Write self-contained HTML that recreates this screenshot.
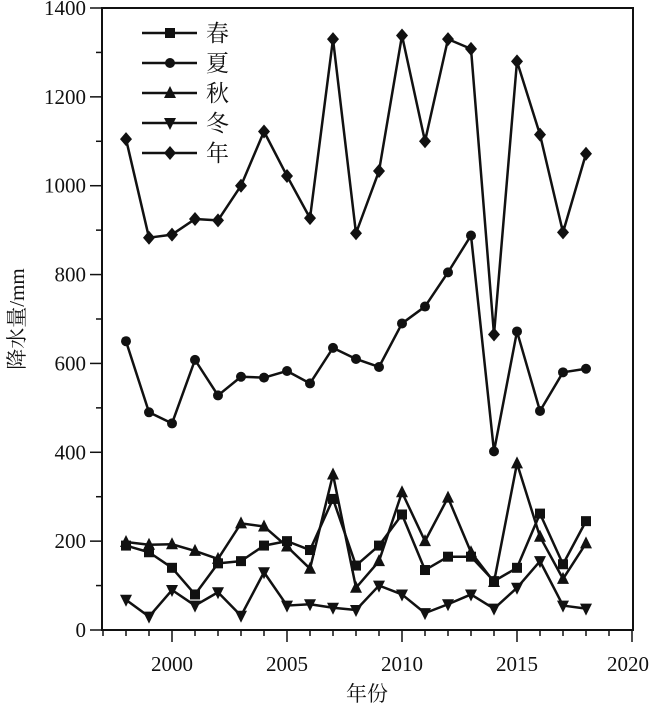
<!DOCTYPE html>
<html><head><meta charset="utf-8"><style>
html,body{margin:0;padding:0;background:#fff;}
svg text{font-family:"Liberation Serif","Noto Serif CJK SC",serif;fill:#111;}
</style></head><body>
<svg id="chart" width="650" height="713" viewBox="0 0 650 713" xmlns="http://www.w3.org/2000/svg">
<g id="axes"></g><g id="series"></g><g id="legend"></g>
</svg>
<script>
const years=[1998,1999,2000,2001,2002,2003,2004,2005,2006,2007,2008,2009,2010,2011,2012,2013,2014,2015,2016,2017,2018];
const spring=[190,175,140,80,150,155,190,200,180,295,145,190,260,135,165,165,110,140,262,148,245];
const summer=[650,490,465,608,528,570,568,583,555,635,610,592,690,728,805,888,402,672,493,580,588];
const autumn=[198,192,193,178,160,240,233,188,138,350,95,155,310,200,298,175,108,375,210,115,195];
const winter=[68,30,90,55,85,32,130,55,58,50,45,100,80,38,58,80,48,95,155,55,48];
const annual=[1105,883,890,925,922,1000,1122,1022,927,1330,893,1033,1338,1100,1330,1308,665,1280,1115,895,1072];
const yTicks=[0,200,400,600,800,1000,1200,1400];
const xTicks=[2000,2005,2010,2015,2020];
const seriesNames=["春","夏","秋","冬","年"];
const L=102,R=633,T=8,B=630;
const X=y=>172+(y-2000)*23;
const Y=v=>B-(v/1400)*(B-T);
const NS="http://www.w3.org/2000/svg";
function mk(tag,attrs,parent){const e=document.createElementNS(NS,tag);for(const k in attrs)e.setAttribute(k,attrs[k]);parent.appendChild(e);return e;}
const ax=document.getElementById('axes');
let fr=mk('rect',{x:L,y:T,width:R-L,height:B-T,fill:'none',stroke:'#111','stroke-width':2},ax);


for(let v=0;v<=1400;v+=100){const major=v%200===0;let t=mk('line',{x1:L-(major?12:6),x2:L,y1:Y(v),y2:Y(v),stroke:'#111','stroke-width':1.5},ax);

}
yTicks.forEach(v=>{let t=mk('text',{x:86,y:Y(v)+7,'font-size':21,'text-anchor':'end'},ax);t.textContent=v;

});
for(let y=1997;y<=2020;y++){const major=y%5===0;let t=mk('line',{x1:X(y),x2:X(y),y1:B,y2:B+(major?12:6),stroke:'#111','stroke-width':1.5},ax);

}
xTicks.forEach(v=>{let t=mk('text',{x:Math.min(X(v),628),y:671,'font-size':21,'text-anchor':'middle'},ax);t.textContent=v;

});
let xt=mk('text',{x:367,y:701,'font-size':21,'text-anchor':'middle'},ax);xt.textContent='年份';


let yt=mk('text',{x:0,y:0,'font-size':21,'text-anchor':'middle',transform:'translate(24,319) rotate(-90)'},ax);yt.textContent='降水量/mm';


function marker(type,x,y,g){
 if(type===0)return mk('rect',{x:x-5,y:y-5,width:10,height:10,fill:'#111'},g);
 if(type===1)return mk('circle',{cx:x,cy:y,r:5,fill:'#111'},g);
 if(type===2)return mk('polygon',{points:`${x},${y-7} ${x-6},${y+5} ${x+6},${y+5}`,fill:'#111'},g);
 if(type===3)return mk('polygon',{points:`${x},${y+7} ${x-6},${y-5} ${x+6},${y-5}`,fill:'#111'},g);
 return mk('polygon',{points:`${x},${y-7} ${x+6},${y} ${x},${y+7} ${x-6},${y}`,fill:'#111'},g);
}
const all=[spring,summer,autumn,winter,annual];
const sg=document.getElementById('series');
const keys=['spring','summer','autumn','winter','annual'];
all.forEach((arr,i)=>{
 const g=mk('g',{},sg);
 
 
 const p=mk('polyline',{points:arr.map((v,j)=>X(years[j])+','+Y(v)).join(' '),fill:'none',stroke:'#111','stroke-width':2.5,'stroke-linejoin':'round'},g);
 
 
 arr.forEach((v,j)=>{const m=marker(i,X(years[j]),Y(v),g);
 
 });
});
const lg=document.getElementById('legend');


seriesNames.forEach((n,i)=>{
 const y=33+i*30;
 const g=mk('g',{},lg);
 
 
 mk('line',{x1:142,x2:197,y1:y,y2:y,stroke:'#111','stroke-width':2.5},g);
 marker(i,170,y,g);
 const t=mk('text',{x:206,y:y+8,'font-size':23},g);t.textContent=n;
});
</script>
</body></html>
